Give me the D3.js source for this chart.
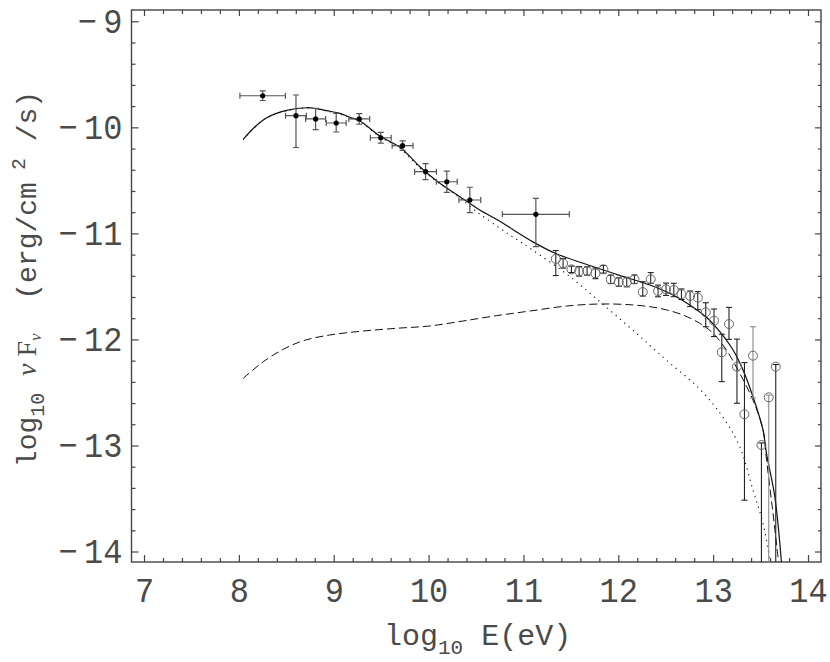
<!DOCTYPE html>
<html>
<head>
<meta charset="utf-8">
<script src="https://cdn.jsdelivr.net/npm/d3@7"></script>
<style>
  body { margin: 0; background: #fff; }
  svg text { font-family: 'Liberation Mono', monospace; fill: #4a4a4a; }
</style>
</head>
<body>
<div id="myDiv"></div>
<script>
//--------------------------------------------------
// Data
//--------------------------------------------------

// filled points (low energy, with x and y error bars)
var filledX = [8.251, 8.602, 8.809, 9.026, 9.269, 9.496, 9.726, 9.968, 10.192, 10.435, 11.131];
var filledY = [-9.702, -9.890, -9.921, -9.959, -9.921, -10.098, -10.173, -10.418, -10.513, -10.685, -10.820];
var filledXErr = [0.24, 0.11, 0.105, 0.105, 0.11, 0.11, 0.11, 0.115, 0.11, 0.115, 0.353];
var filledYUp = [0.045, 0.195, 0.10, 0.09, 0.05, 0.05, 0.045, 0.075, 0.10, 0.12, 0.15];
var filledYDown = [0.045, 0.30, 0.10, 0.085, 0.05, 0.05, 0.045, 0.075, 0.10, 0.12, 0.305];

// open circles (high energy, y error bars only)
var openX = [11.341, 11.418, 11.506, 11.587, 11.671, 11.759, 11.843, 11.920, 12.005, 12.089,
             12.170, 12.258, 12.342, 12.419, 12.503, 12.585, 12.666, 12.757, 12.838, 12.922,
             13.009, 13.091, 13.167, 13.251, 13.330, 13.420, 13.509, 13.586, 13.660];
var openY = [-11.241, -11.282, -11.339, -11.358, -11.355, -11.377, -11.339, -11.433, -11.459, -11.459,
             -11.433, -11.553, -11.433, -11.543, -11.527, -11.534, -11.574, -11.590, -11.606, -11.744,
             -11.823, -12.121, -11.855, -12.257, -12.706, -12.153, -12.996, -12.546, -12.257];
var openYUp = [0.08, 0.045, 0.03, 0.045, 0.04, 0.05, 0.036, 0.04, 0.04, 0.045,
               0.04, 0.097, 0.063, 0.055, 0.058, 0.063, 0.05, 0.047, 0.057, 0.09,
               0.11, 0.17, 0.157, 0.26, 0.487, 0.273, 0.02, 0.02, 0.02];
var openYDown = [0.157, 0.045, 0.03, 0.045, 0.04, 0.05, 0.036, 0.04, 0.04, 0.045,
                 0.04, 0.038, 0.038, 0.055, 0.058, 0.063, 0.05, 0.10, 0.113, 0.136,
                 0.15, 0.277, 0.144, 0.345, 0.81, 0.40, 3, 3, 3];

// model curves
var solidX = [8.046, 8.17, 8.293, 8.503, 8.714, 8.82, 8.925, 9.065, 9.17, 9.276, 9.487, 9.698, 9.908,
              10.119, 10.33, 10.54, 10.751, 10.9, 11.1, 11.34, 11.629, 11.98, 12.332, 12.577,
              12.753, 12.929, 13.07, 13.21, 13.315, 13.42, 13.526, 13.562, 13.65, 13.72];
var solidY = [-10.113, -9.995, -9.910, -9.840, -9.815, -9.824, -9.843, -9.868, -9.905, -9.940, -10.082, -10.188, -10.371,
              -10.528, -10.654, -10.780, -10.885, -10.970, -11.080, -11.190, -11.282, -11.386, -11.487, -11.581,
              -11.675, -11.791, -11.927, -12.100, -12.288, -12.540, -12.854, -13.074, -13.483, -14.10];

var dottedX = [8.046, 8.17, 8.293, 8.503, 8.714, 8.82, 8.925, 9.065, 9.17, 9.276, 9.487, 9.698, 9.908,
               10.1, 10.3, 10.5, 10.75, 10.9, 11.1, 11.45, 11.8, 12.15, 12.5, 12.85, 13.1,
               13.28, 13.42, 13.53, 13.6];
var dottedY = [-10.115, -9.997, -9.912, -9.843, -9.818, -9.827, -9.847, -9.873, -9.911, -9.947, -10.09, -10.197, -10.382,
               -10.52, -10.645, -10.79, -10.95, -11.04, -11.16, -11.38, -11.64, -11.91, -12.19, -12.46, -12.73,
               -13.01, -13.42, -13.75, -14.10];

var dashedX = [8.046, 8.257, 8.468, 8.679, 8.96, 9.311, 9.663, 10.014, 10.365, 10.716, 11.07, 11.454,
               11.805, 12.156, 12.437, 12.683, 12.859, 12.999, 13.14, 13.28, 13.42, 13.526, 13.562, 13.631, 13.69];
var dashedY = [-12.367, -12.21, -12.093, -12.012, -11.958, -11.921, -11.895, -11.873, -11.826, -11.776, -11.732, -11.685,
               -11.666, -11.675, -11.707, -11.77, -11.848, -11.942, -12.10, -12.32, -12.571, -12.854, -13.13, -13.64, -14.10];

// axes
var xTicks = [7, 8, 9, 10, 11, 12, 13, 14];
var yTicks = [-14, -13, -12, -11, -10, -9];
var xDomain = [6.868, 14.137];
var yDomain = [-14.099, -8.8934];

//--------------------------------------------------
// Properties
//--------------------------------------------------
var frameColor = '#444444';
var textColor = '#4a4a4a';
var lineColor = '#111111';
var barColor = '#555555';
var openBarColor = '#222222';
var lightBarColor = '#8a8a8a';
var lightBars = [25, 27];   // indexes of open circles drawn with grey bars
var capHalf = 3;
var textStretch = 'scale(1,1.12)';

var d3 = window.d3;
chartIt();

function chartIt() {
  var margin = {top: 10, right: 9, bottom: 100, left: 131.5},
      width = 830 - margin.left - margin.right,
      height = 662 - margin.top - margin.bottom;

  var svg = d3.select('#myDiv')
    .append('svg')
      .attr('width', 830)
      .attr('height', 662)
    .append('g')
      .attr('transform', 'translate(' + margin.left + ',' + margin.top + ')');

  var x = d3.scaleLinear().domain(xDomain).range([0, width]);
  var y = d3.scaleLinear().domain(yDomain).range([height, 0]);

  svg.append('clipPath').attr('id', 'plotClip')
    .append('rect').attr('width', width).attr('height', height);

  // minor tick values every 0.2
  var xMinor = d3.range(68, 142, 2).map(function (v) { return v / 10; })
    .filter(function (v) { return v > xDomain[0] && v < xDomain[1] && Math.abs(v - Math.round(v)) > 0.01; });
  var yMinor = d3.range(-140, -88, 2).map(function (v) { return v / 10; })
    .filter(function (v) { return v > yDomain[0] && v < yDomain[1] && Math.abs(v - Math.round(v)) > 0.01; });

  var fmt = function (v) { return v < 0 ? '\u2212\u2009' + Math.abs(v) : String(v); };

  function styleAxis(g) {
    g.select('.domain').remove();
    g.selectAll('.tick line').attr('stroke', frameColor).attr('stroke-width', 1.2);
    g.selectAll('.tick text').attr('font-size', 32).attr('fill', textColor)
      .attr('transform', textStretch);
  }

  // bottom
  svg.append('g').attr('transform', 'translate(0,' + height + ')')
    .call(d3.axisBottom(x).tickValues(xTicks).tickSize(-7).tickPadding(13).tickFormat(fmt))
    .call(styleAxis);
  svg.append('g').attr('transform', 'translate(0,' + height + ')')
    .call(d3.axisBottom(x).tickValues(xMinor).tickSize(-4).tickFormat(''))
    .call(styleAxis);
  // top
  svg.append('g')
    .call(d3.axisTop(x).tickValues(xTicks).tickSize(-6).tickFormat(''))
    .call(styleAxis);
  svg.append('g')
    .call(d3.axisTop(x).tickValues(xMinor).tickSize(-4).tickFormat(''))
    .call(styleAxis);
  // left
  svg.append('g')
    .call(d3.axisLeft(y).tickValues(yTicks).tickSize(-7).tickPadding(9).tickFormat(fmt))
    .call(styleAxis);
  svg.append('g')
    .call(d3.axisLeft(y).tickValues(yMinor).tickSize(-4).tickFormat(''))
    .call(styleAxis);
  // right
  svg.append('g').attr('transform', 'translate(' + width + ',0)')
    .call(d3.axisRight(y).tickValues(yTicks).tickSize(-6).tickFormat(''))
    .call(styleAxis);
  svg.append('g').attr('transform', 'translate(' + width + ',0)')
    .call(d3.axisRight(y).tickValues(yMinor).tickSize(-3).tickFormat(''))
    .call(styleAxis);

  svg.append('rect')
    .attr('width', width).attr('height', height)
    .attr('fill', 'none').attr('stroke', frameColor).attr('stroke-width', 1.4);

  var plot = svg.append('g').attr('clip-path', 'url(#plotClip)');

  // model curves
  function curve(xs, ys) {
    return d3.line().curve(d3.curveCatmullRom)
      .x(function (d) { return x(d[0]); })
      .y(function (d) { return y(d[1]); })(d3.zip(xs, ys));
  }
  plot.append('path').attr('d', curve(dashedX, dashedY))
    .attr('fill', 'none').attr('stroke', lineColor).attr('stroke-width', 1)
    .attr('stroke-dasharray', '8,4');
  plot.append('path').attr('d', curve(dottedX, dottedY))
    .attr('fill', 'none').attr('stroke', lineColor).attr('stroke-width', 1.1)
    .attr('stroke-dasharray', '1.2,4.5');
  plot.append('path').attr('d', curve(solidX, solidY))
    .attr('fill', 'none').attr('stroke', lineColor).attr('stroke-width', 1.2);

  // filled points
  var filled = d3.range(filledX.length).map(function (i) {
    return {x: filledX[i], y: filledY[i], xe: filledXErr[i], up: filledYUp[i], dn: filledYDown[i]};
  });
  var fg = plot.append('g').selectAll('g').data(filled).enter().append('g')
    .attr('stroke', barColor).attr('stroke-width', 1.2);
  fg.append('line')
    .attr('x1', function (d) { return x(d.x - d.xe); })
    .attr('x2', function (d) { return x(d.x + d.xe); })
    .attr('y1', function (d) { return y(d.y); })
    .attr('y2', function (d) { return y(d.y); });
  fg.append('line')
    .attr('x1', function (d) { return x(d.x); })
    .attr('x2', function (d) { return x(d.x); })
    .attr('y1', function (d) { return y(d.y + d.up); })
    .attr('y2', function (d) { return y(d.y - d.dn); });
  [-1, 1].forEach(function (s) {
    fg.append('line')
      .attr('x1', function (d) { return x(d.x + s * d.xe); })
      .attr('x2', function (d) { return x(d.x + s * d.xe); })
      .attr('y1', function (d) { return y(d.y) - capHalf; })
      .attr('y2', function (d) { return y(d.y) + capHalf; });
  });
  fg.append('line')
    .attr('x1', function (d) { return x(d.x) - capHalf; })
    .attr('x2', function (d) { return x(d.x) + capHalf; })
    .attr('y1', function (d) { return y(d.y + d.up); })
    .attr('y2', function (d) { return y(d.y + d.up); });
  fg.append('line')
    .attr('x1', function (d) { return x(d.x) - capHalf; })
    .attr('x2', function (d) { return x(d.x) + capHalf; })
    .attr('y1', function (d) { return y(d.y - d.dn); })
    .attr('y2', function (d) { return y(d.y - d.dn); });
  fg.append('circle')
    .attr('cx', function (d) { return x(d.x); })
    .attr('cy', function (d) { return y(d.y); })
    .attr('r', 2.6).attr('fill', '#000').attr('stroke', 'none');

  // open circles
  var open = d3.range(openX.length).map(function (i) {
    return {x: openX[i], y: openY[i], up: openYUp[i], dn: openYDown[i], light: lightBars.indexOf(i) >= 0};
  });
  var og = plot.append('g').selectAll('g').data(open).enter().append('g')
    .attr('stroke', function (d) { return d.light ? lightBarColor : openBarColor; })
    .attr('stroke-width', 1.1);
  og.append('line')
    .attr('x1', function (d) { return x(d.x); })
    .attr('x2', function (d) { return x(d.x); })
    .attr('y1', function (d) { return y(d.y + d.up); })
    .attr('y2', function (d) { return y(d.y - d.dn); });
  og.append('line')
    .attr('x1', function (d) { return x(d.x) - capHalf; })
    .attr('x2', function (d) { return x(d.x) + capHalf; })
    .attr('y1', function (d) { return y(d.y + d.up); })
    .attr('y2', function (d) { return y(d.y + d.up); });
  og.append('line')
    .attr('x1', function (d) { return x(d.x) - capHalf; })
    .attr('x2', function (d) { return x(d.x) + capHalf; })
    .attr('y1', function (d) { return y(d.y - d.dn); })
    .attr('y2', function (d) { return y(d.y - d.dn); });
  og.append('circle')
    .attr('cx', function (d) { return x(d.x); })
    .attr('cy', function (d) { return y(d.y); })
    .attr('r', 4.5).attr('fill', 'none').attr('stroke', '#666').attr('stroke-width', 1);

  // axis titles
  var xt = svg.append('text')
    .attr('x', 384 - margin.left).attr('y', 645 - margin.top)
    .attr('font-size', 30)
    .style('white-space', 'pre');
  xt.append('tspan').text('log');
  xt.append('tspan').attr('dy', 9).attr('font-size', 21).text('10');
  xt.append('tspan').attr('dy', -9).attr('dx', 18).text('E(eV)');

  var yt = svg.append('text')
    .attr('transform', 'translate(' + (36 - margin.left) + ',' + (279 - margin.top) + ') rotate(-90)')
    .attr('text-anchor', 'middle').attr('font-size', 28)
    .style('white-space', 'pre');
  yt.append('tspan').text('log');
  yt.append('tspan').attr('dy', 8).attr('font-size', 20).text('10');
  yt.append('tspan').attr('dy', -8).text(' ');
  yt.append('tspan').style('font-family', 'Liberation Serif').style('font-style', 'italic').text('ν');
  yt.append('tspan').style('font-family', 'Liberation Serif').text(' F');
  yt.append('tspan').attr('dy', 5).attr('font-size', 17)
    .style('font-family', 'Liberation Serif').style('font-style', 'italic').text('ν');
  yt.append('tspan').attr('dy', -5).text('  (erg/cm');
  yt.append('tspan').attr('dy', -11).attr('font-size', 20).text(' 2');
  yt.append('tspan').attr('dy', 11).text(' /s)');
}
</script>
</body>
</html>
